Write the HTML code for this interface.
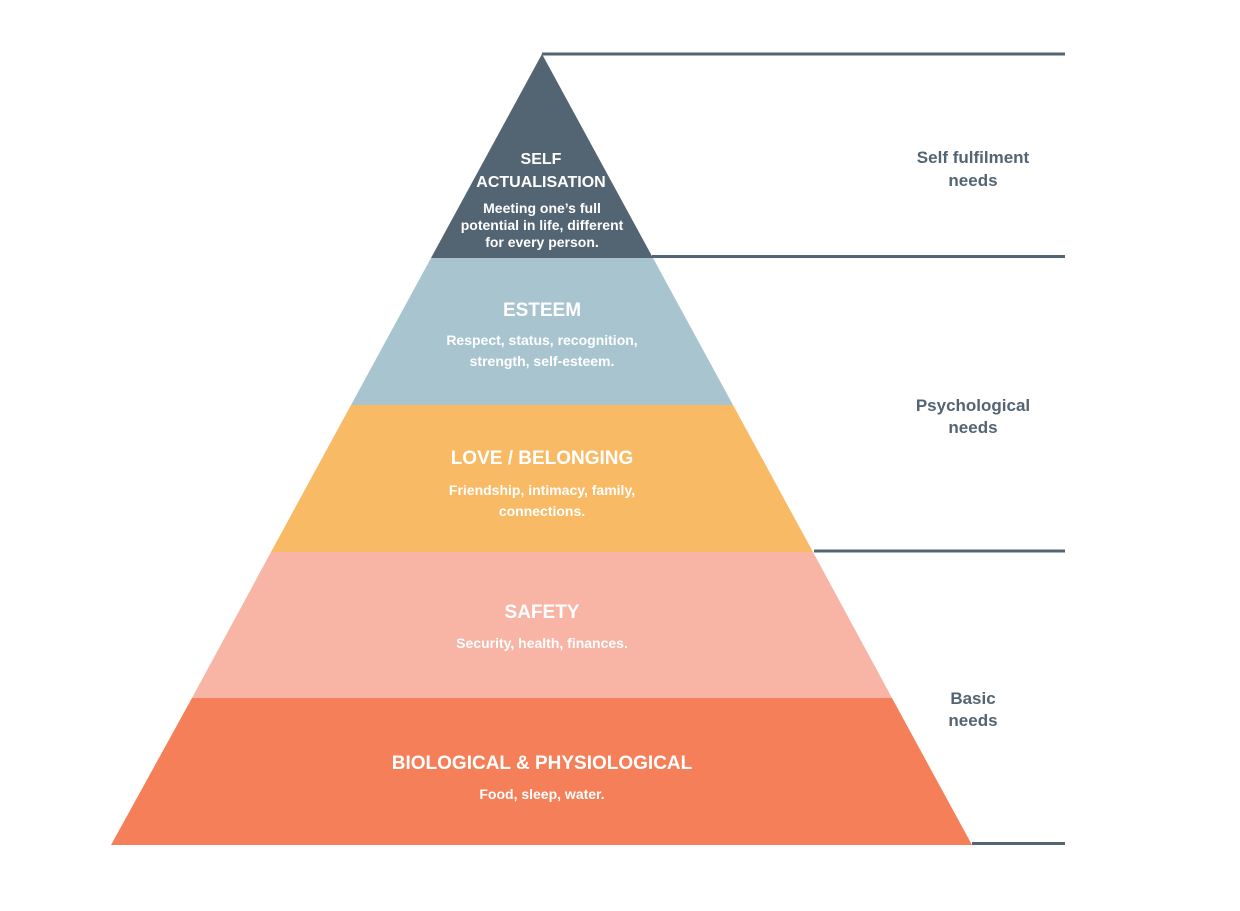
<!DOCTYPE html>
<html><head><meta charset="utf-8"><style>
html,body{margin:0;padding:0;background:#fff;}
svg{display:block;}
text{font-family:"Liberation Sans",Arial,sans-serif;font-weight:bold;}
</style></head><body>
<svg width="1240" height="911" viewBox="0 0 1240 911" xmlns="http://www.w3.org/2000/svg">
<rect width="1240" height="911" fill="#fff"/>
<polygon points="542,54 653,258 431,258" fill="#536473"/>
<polygon points="431,258 653,258 733,405 351,405" fill="#a7c4cf"/>
<polygon points="351,405 733,405 813,552 271,552" fill="#f9ba65"/>
<polygon points="271,552 813,552 892,698 192,698" fill="#f8b4a4"/>
<polygon points="192,698 892,698 972,845 111,845" fill="#f47f59"/>
<g stroke="#536473" stroke-width="3">
<line x1="542" y1="54" x2="1065" y2="54"/>
<line x1="652" y1="256.5" x2="1065" y2="256.5"/>
<line x1="814" y1="551" x2="1065" y2="551"/>
<line x1="972" y1="843.5" x2="1065" y2="843.5"/>
</g>
<g fill="#fff" text-anchor="middle">
<text x="541" y="164" font-size="16">SELF</text>
<text x="541" y="187" font-size="16">ACTUALISATION</text>
<text x="542" y="213" font-size="14">Meeting one’s full</text>
<text x="542" y="230" font-size="14">potential in life, different</text>
<text x="542" y="247" font-size="14">for every person.</text>
<text x="542" y="316" font-size="19">ESTEEM</text>
<text x="542" y="345" font-size="14">Respect, status, recognition,</text>
<text x="542" y="366" font-size="14">strength, self-esteem.</text>
<text x="542" y="464" font-size="19">LOVE / BELONGING</text>
<text x="542" y="495" font-size="14">Friendship, intimacy, family,</text>
<text x="542" y="516" font-size="14">connections.</text>
<text x="542" y="618" font-size="19">SAFETY</text>
<text x="542" y="648" font-size="14">Security, health, finances.</text>
<text x="542" y="769" font-size="19">BIOLOGICAL &amp; PHYSIOLOGICAL</text>
<text x="542" y="799" font-size="14">Food, sleep, water.</text>
</g>
<g fill="#536473" text-anchor="middle" font-size="17">
<text x="973" y="163">Self fulfilment</text>
<text x="973" y="186">needs</text>
<text x="973" y="411">Psychological</text>
<text x="973" y="433">needs</text>
<text x="973" y="704">Basic</text>
<text x="973" y="726">needs</text>
</g>
</svg>
</body></html>
